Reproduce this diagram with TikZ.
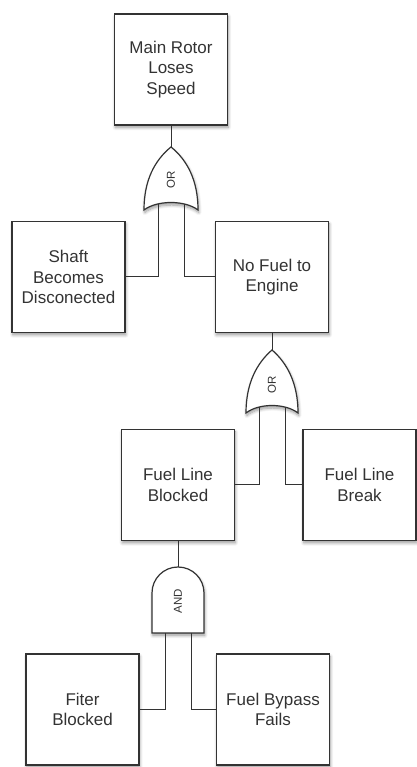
\documentclass[tikz,border=0pt]{standalone}
\usepackage{fontspec}
\setmainfont{Liberation Sans}
\usetikzlibrary{shadows.blur}
\definecolor{ink}{HTML}{333333}
\tikzset{
  myshadow/.style={blur shadow={shadow xshift=0.8pt, shadow yshift=-2.5pt, shadow blur steps=8, shadow blur radius=3pt, shadow opacity=40}},
  evbox/.style={draw=ink, line width=1.2pt, fill=white, minimum width=113pt, minimum height=111pt,
    inner sep=0pt, align=center, font=\fontsize{17}{20.5}\selectfont, text=ink, myshadow},
  gateshape/.style={draw=ink, line width=1.2pt, fill=white, myshadow},
  gtext/.style={rotate=90, font=\fontsize{11.5}{12}\selectfont, text=ink, inner sep=0pt},
  wire/.style={draw=ink, line width=1pt}
}
\begin{document}
\begin{tikzpicture}[x=1pt, y=1pt]
\useasboundingbox (0,0) rectangle (416,767);
% events
\node[evbox] (top)     at (171,697.5)  {Main Rotor\\Loses\\Speed};
\node[evbox] (shaft)   at (68.5,490)   {Shaft\\Becomes\\Disconected};
\node[evbox] (nofuel)  at (272,490)    {No Fuel to\\Engine};
\node[evbox] (blocked) at (178,282)    {Fuel Line\\Blocked};
\node[evbox] (break)   at (359.5,282)  {Fuel Line\\Break};
\node[evbox] (filter)  at (82.5,57.5)  {Fiter\\Blocked};
\node[evbox] (bypass)  at (273,57.5)   {Fuel Bypass\\Fails};
% OR gate 1
\begin{scope}[shift={(171,620)}]
  \path[gateshape] (-27,-63) .. controls (-27,-33) and (-16,-13) .. (0,0)
     .. controls (16,-13) and (27,-33) .. (27,-63)
     .. controls (14,-53) and (-14,-53) .. (-27,-63) -- cycle;
  \coordinate (or1tip) at (0,0);
  \coordinate (or1a) at (-13,-57);
  \coordinate (or1b) at (13,-57);
  \node[gtext] (or1lbl) at (0,-33) {OR};
\end{scope}
% OR gate 2
\begin{scope}[shift={(272,417)}]
  \path[gateshape] (-26,-63) .. controls (-26,-33) and (-15,-13) .. (0,0)
     .. controls (15,-13) and (26,-33) .. (26,-63)
     .. controls (13,-53) and (-13,-53) .. (-26,-63) -- cycle;
  \coordinate (or2tip) at (0,0);
  \coordinate (or2a) at (-13,-57);
  \coordinate (or2b) at (13,-57);
  \node[gtext] (or2lbl) at (0,-35) {OR};
\end{scope}
% AND gate
\begin{scope}[shift={(178,200)}]
  \path[gateshape] (-26,-66) -- (-26,-26) arc (180:0:26) -- (26,-66) -- cycle;
  \coordinate (andtop) at (0,0);
  \coordinate (anda) at (-13,-66);
  \coordinate (andb) at (13,-66);
  \node[gtext] (andlbl) at (0,-34) {AND};
\end{scope}
% connectors
\draw[wire] (top.south) -- (or1tip);
\draw[wire] (or1a) |- (shaft);
\draw[wire] (or1b) |- (nofuel);
\draw[wire] (nofuel.south) -- (or2tip);
\draw[wire] (or2a) |- (blocked);
\draw[wire] (or2b) |- (break);
\draw[wire] (blocked.south) -- (andtop);
\draw[wire] (anda) |- (filter);
\draw[wire] (andb) |- (bypass);
\end{tikzpicture}
\end{document}
